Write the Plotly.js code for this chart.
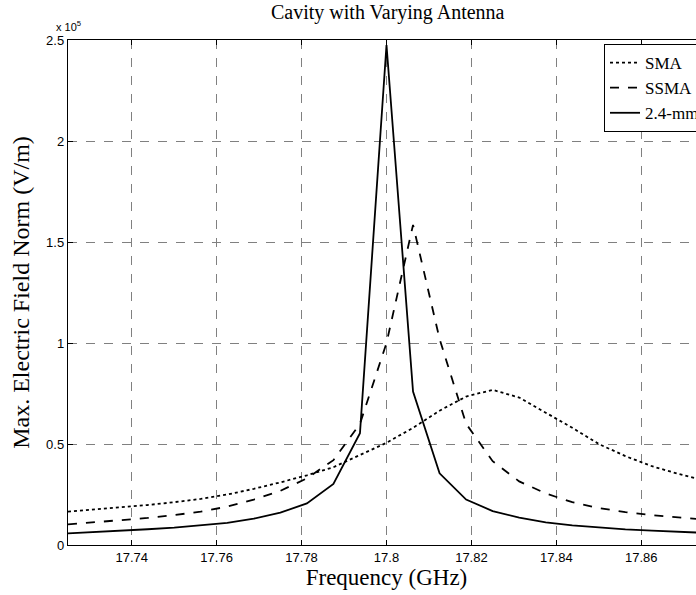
<!DOCTYPE html>
<html>
<head>
<meta charset="utf-8">
<script src="https://cdn.plot.ly/plotly-3.0.1.min.js"></script>
<style>
html, body { margin: 0; padding: 0; overflow: hidden; background: #fff; }
#chart { width: 705px; height: 595px; }
</style>
</head>
<body>
<div id="chart"></div>
<script>
// Frequency points (GHz)
const freq = [17.725, 17.73125, 17.7375, 17.74375, 17.75, 17.75625, 17.7625, 17.76875,
  17.775, 17.78125, 17.7875, 17.79375, 17.8, 17.80625, 17.8125, 17.81875,
  17.825, 17.83125, 17.8375, 17.84375, 17.85, 17.85625, 17.8625, 17.86875, 17.875];

// Max. electric field norm, units of 1e5 V/m
const sma = [0.165, 0.176, 0.186, 0.198, 0.212, 0.228, 0.250, 0.278,
  0.310, 0.345, 0.385, 0.445, 0.506, 0.580, 0.665, 0.735,
  0.768, 0.730, 0.655, 0.580, 0.500, 0.440, 0.390, 0.352, 0.318];
const ssma = [0.102, 0.112, 0.122, 0.134, 0.148, 0.165, 0.190, 0.225,
  0.268, 0.330, 0.420, 0.600, 1.000, 1.585, 1.020, 0.600,
  0.415, 0.315, 0.255, 0.212, 0.183, 0.163, 0.148, 0.136, 0.126];
const mm24 = [0.058, 0.064, 0.071, 0.078, 0.086, 0.097, 0.110, 0.130,
  0.160, 0.206, 0.302, 0.553, 2.475, 0.760, 0.355, 0.225,
  0.168, 0.135, 0.112, 0.097, 0.086, 0.077, 0.071, 0.065, 0.060];

const seriesNames = ['SMA', 'SSMA', '2.4-mm'];
const xTickVals = [17.74, 17.76, 17.78, 17.8, 17.82, 17.84, 17.86];
const xTickText = ['17.74', '17.76', '17.78', '17.8', '17.82', '17.84', '17.86'];
const yTickVals = [0, 0.5, 1, 1.5, 2, 2.5];
const yTickText = ['0', '0.5', '1', '1.5', '2', '2.5'];

const lineBase = {color: '#000', width: 1.8};
const traces = [
  {x: freq, y: sma, name: seriesNames[0], mode: 'lines', line: Object.assign({}, lineBase, {dash: 'dot'})},
  {x: freq, y: ssma, name: seriesNames[1], mode: 'lines', line: Object.assign({}, lineBase, {dash: 'dash'})},
  {x: freq, y: mm24, name: seriesNames[2], mode: 'lines', line: Object.assign({}, lineBase, {dash: 'solid'})}
];

const serif = 'Liberation Serif, Times New Roman, serif';
const sans = 'Liberation Sans, Arial, sans-serif';

const axisCommon = {
  showline: true, linecolor: '#000', linewidth: 1.2, mirror: 'ticks',
  ticks: 'inside', ticklen: 5, tickcolor: '#000', tickwidth: 1,
  showgrid: true, gridcolor: '#808080', gridwidth: 1, griddash: 'dash',
  zeroline: false,
  tickfont: {family: sans, size: 13, color: '#000'}
};

const layout = {
  width: 705, height: 595,
  margin: {l: 68, r: 0, t: 40, b: 50},
  paper_bgcolor: '#fff', plot_bgcolor: '#fff',
  showlegend: true,
  title: {text: 'Cavity with Varying Antenna', x: 0.55, xanchor: 'center', y: 0.98, yanchor: 'middle',
    font: {family: serif, size: 20, color: '#000'}},
  xaxis: Object.assign({}, axisCommon, {
    range: [17.725, 17.875], tickvals: xTickVals, ticktext: xTickText,
    title: {text: 'Frequency (GHz)', standoff: 4,
      font: {family: serif, size: 23, color: '#000'}}
  }),
  yaxis: Object.assign({}, axisCommon, {
    range: [0, 2.5], tickvals: yTickVals, ticktext: yTickText,
    title: {text: 'Max. Electric Field Norm (V/m)', standoff: 9,
      font: {family: serif, size: 24, color: '#000'}}
  }),
  legend: {
    x: 1, xanchor: 'right', y: 0.992, yanchor: 'top',
    bgcolor: '#fff', bordercolor: '#000', borderwidth: 1,
    font: {family: serif, size: 17, color: '#000'},
    tracegroupgap: 0, itemwidth: 30
  },
  annotations: [{
    text: 'x 10<sup>5</sup>', xref: 'paper', yref: 'paper', x: 0, y: 1, xanchor: 'left', yanchor: 'bottom',
    xshift: -14, yshift: 5, showarrow: false,
    font: {family: sans, size: 11, color: '#000'}
  }]
};

Plotly.newPlot('chart', traces, layout, {displayModeBar: false, staticPlot: true});
</script>
</body>
</html>
